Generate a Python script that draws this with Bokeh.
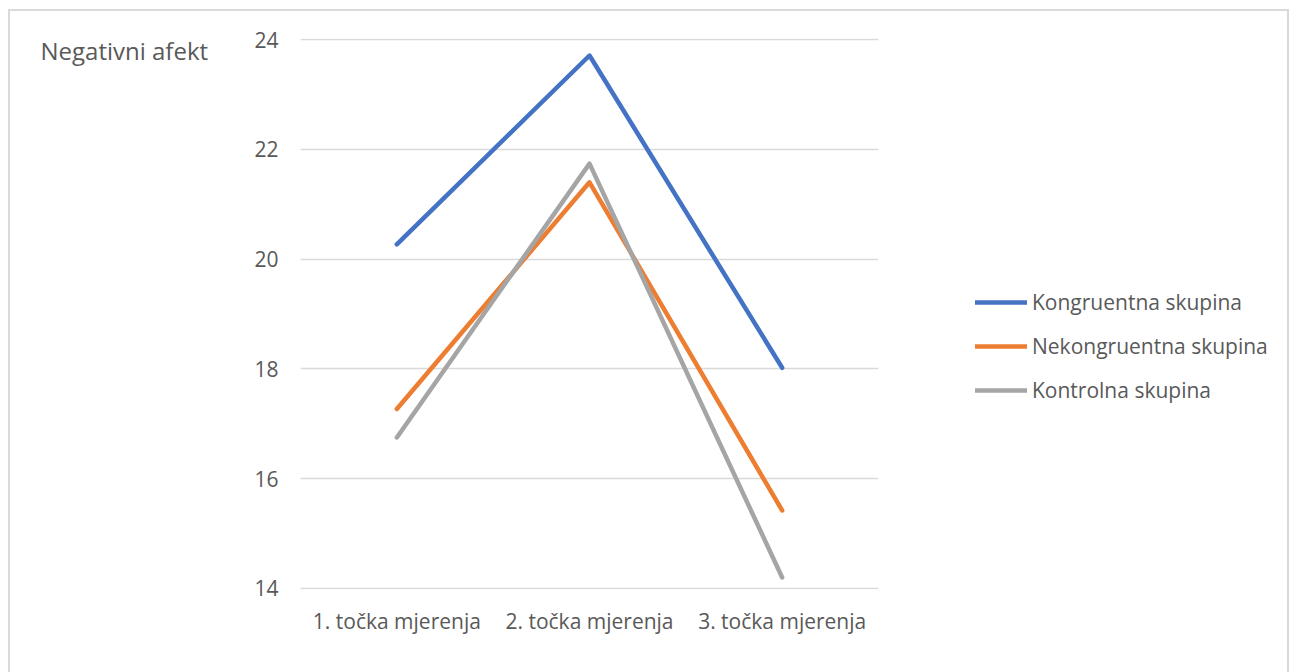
from bokeh.plotting import figure
from bokeh.models import Range1d, FactorRange, Legend, LegendItem, Title
from bokeh.embed import file_html
from bokeh.resources import INLINE

categories = ["1. točka mjerenja", "2. točka mjerenja", "3. točka mjerenja"]
kongruentna = [20.27, 23.71, 18.02]
nekongruentna = [17.27, 21.40, 15.42]
kontrolna = [16.75, 21.74, 14.20]
series_names = ["Kongruentna skupina", "Nekongruentna skupina", "Kontrolna skupina"]
y_ticks = [14, 16, 18, 20, 22, 24]

FONT = "Open Sans"
TXT = "#595959"

p = figure(frame_width=578, frame_height=551, output_backend="svg", toolbar_location=None,
           x_range=FactorRange(*categories, range_padding=0),
           y_range=Range1d(13.98, 24.02),
           min_border_left=290, min_border_right=27, min_border_top=27, min_border_bottom=83)
p.margin = (9, 0, 0, 8)
p.styles = {"border-top": "2px solid #d9d9d9", "border-left": "2px solid #d9d9d9",
            "border-right": "2px solid #d9d9d9", "max-width": "1281px", "overflow": "hidden"}
p.outline_line_color = None
p.xgrid.grid_line_color = None
p.ygrid.grid_line_color = "#d9d9d9"
p.ygrid.grid_line_width = 1.3
p.yaxis.ticker = y_ticks
for ax in (p.xaxis, p.yaxis):
    ax.axis_line_color = None
    ax.major_tick_line_color = None
    ax.minor_tick_line_color = None
    ax.major_label_text_font = FONT
    ax.major_label_text_font_size = "21px"
    ax.major_label_text_color = TXT
p.yaxis.major_label_standoff = 16
p.xaxis.major_label_standoff = 11

colors = ["#4472C4", "#ED7D31", "#A5A5A5"]
items = []
for vals, col, name in zip([kongruentna, nekongruentna, kontrolna], colors, series_names):
    r = p.line(categories, vals, line_color=col, line_width=4.5, line_cap="round", line_join="round")
    items.append(LegendItem(label=name, renderers=[r]))

legend = Legend(items=items, location=(97, 185), padding=0, margin=0,
                border_line_color=None, background_fill_alpha=0,
                glyph_width=52, glyph_height=20, label_height=20, spacing=16,
                label_standoff=5, label_text_font=FONT, label_text_font_size="21px",
                label_text_color=TXT)
p.add_layout(legend, "right")

p.add_layout(Title(text="Negativni afekt", align="left", offset=-260, standoff=-56,
                   text_font=FONT, text_font_size="24px", text_color=TXT,
                   text_font_style="normal"), "above")

open("out.html", "w").write(file_html(p, INLINE))
